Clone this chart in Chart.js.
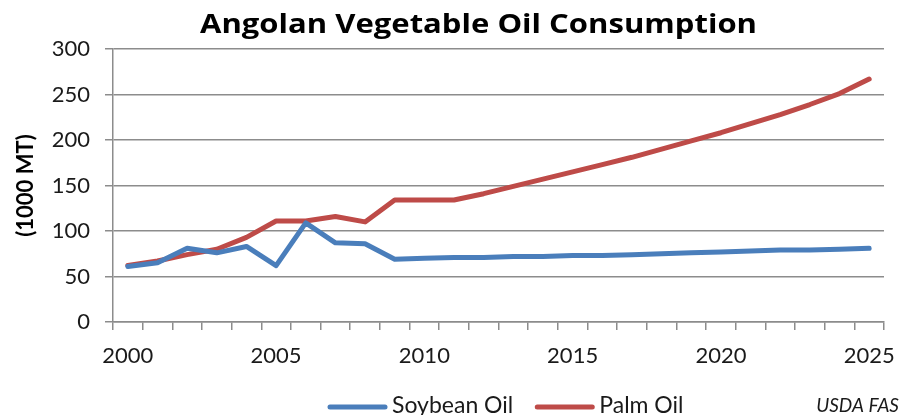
<!DOCTYPE html>
<html>
<head>
<meta charset="utf-8">
<title>Angolan Vegetable Oil Consumption</title>
<script src="https://cdn.jsdelivr.net/npm/chart.js@4.4.1/dist/chart.umd.min.js"></script>
<style>
  html, body { margin: 0; padding: 0; background: #fff; overflow: hidden; }
  #wrap { width: 901px; height: 415px; }
</style>
</head>
<body>
<div id="wrap"><canvas id="oilChart" width="901" height="415"></canvas></div>
<script>
// values (1000 MT)
const years = ['2000', '2001', '2002', '2003', '2004', '2005', '2006', '2007', '2008', '2009',
  '2010', '2011', '2012', '2013', '2014', '2015', '2016', '2017', '2018', '2019',
  '2020', '2021', '2022', '2023', '2024', '2025'];
const soybeanOil = [61, 65, 81, 76, 83, 62, 109, 87, 86, 69,
  70, 71, 71, 72, 72, 73, 73, 74, 75, 76,
  77, 78, 79, 79, 80, 81];
const palmOil = [62, 67, 74, 80, 93, 111, 111, 116, 110, 134,
  134, 134, 141, 149, 157, 165, 173, 181, 190, 199,
  208, 218, 228, 239, 251, 267];
const xLabels = ['2000', '2005', '2010', '2015', '2020', '2025'];
const yTicks = [0, 50, 100, 150, 200, 250, 300];

const gridGray = '#8c8c8c';
const textColor = '#1a1a1a';

// title, legend and source note are placed by hand like the Excel original
const chartText = {
  id: 'chartText',
  afterDraw(chart) {
    const ctx = chart.ctx;
    ctx.save();
    ctx.fillStyle = '#000';
    ctx.textBaseline = 'alphabetic';
    ctx.textAlign = 'left';
    // Calibri title is wide and heavy: stretch Open Sans bold to the same span
    ctx.font = 'bold 27px "Open Sans"';
    const title = 'Angolan Vegetable Oil Consump\u200Ction';
    const w = ctx.measureText(title).width;
    ctx.save();
    ctx.translate(200, 33);
    ctx.scale(557 / w, 1);
    ctx.fillText(title, 0, 0);
    ctx.restore();

    ctx.font = '23px Lato';
    let x = 330;
    chart.data.datasets.forEach((ds) => {
      ctx.strokeStyle = ds.borderColor;
      ctx.lineWidth = 5;
      ctx.lineCap = 'round';
      ctx.beginPath();
      ctx.moveTo(x, 407);
      ctx.lineTo(x + 55, 407);
      ctx.stroke();
      ctx.fillStyle = textColor;
      ctx.fillText(ds.label, x + 62, 413);
      x += 62 + ctx.measureText(ds.label).width + 24;
    });

    ctx.font = 'italic 19px Lato';
    ctx.textAlign = 'right';
    ctx.fillText('USDA FAS', 899, 412);
    ctx.restore();
  }
};

new Chart(document.getElementById('oilChart'), {
  type: 'line',
  data: {
    labels: years,
    datasets: [
      {
        label: 'Soybean Oil',
        data: soybeanOil,
        borderColor: '#4a7ebb',
        borderWidth: 5,
        pointRadius: 0,
        tension: 0,
        borderJoinStyle: 'round',
        borderCapStyle: 'round',
      },
      {
        label: 'Palm Oil',
        data: palmOil,
        borderColor: '#be4b48',
        borderWidth: 5,
        pointRadius: 0,
        tension: 0,
        borderJoinStyle: 'round',
        borderCapStyle: 'round',
      },
    ],
  },
  options: {
    responsive: false,
    animation: false,
    devicePixelRatio: 1,
    layout: { padding: { left: 0, right: 17, top: 49, bottom: 0 } },
    plugins: {
      legend: { display: false },
      title: { display: false },
      tooltip: { enabled: false },
    },
    scales: {
      x: {
        offset: true,
        grid: { offset: true, drawOnChartArea: false, tickLength: 8, color: gridGray, lineWidth: 1.5 },
        border: { color: gridGray, width: 1.5 },
        ticks: {
          autoSkip: false,
          maxRotation: 0,
          padding: 13,
          color: textColor,
          font: { family: 'Lato', size: 22 },
          callback: (val, i) => (xLabels.includes(years[i]) ? years[i] : ''),
        },
        afterFit(scale) {
          scale.height = 93;
          // labels sit at category centres, the end labels fit in the margin
          scale.paddingLeft = 0;
          scale.paddingRight = 0;
        },
      },
      y: {
        min: 0,
        max: 300,
        grid: { color: gridGray, lineWidth: 1.5, tickLength: 8 },
        border: { color: gridGray, width: 1.5 },
        ticks: { padding: 15, color: textColor, font: { family: 'Lato', size: 22 } },
        afterBuildTicks(scale) { scale.ticks = yTicks.map((v) => ({ value: v })); },
        title: {
          display: true,
          text: '(1000 MT)',
          color: '#000',
          font: { family: 'Lato', size: 22, weight: 'bold' },
          padding: { top: 13, bottom: 0 },
        },
        afterFit(scale) { scale.width = 113; },
      },
    },
  },
  plugins: [chartText],
});
</script>
</body>
</html>
